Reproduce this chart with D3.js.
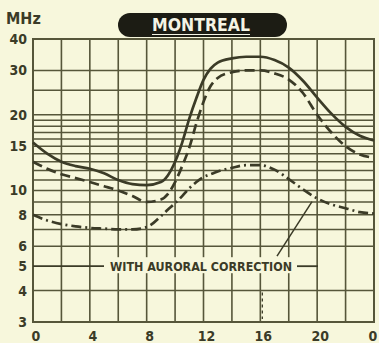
<!DOCTYPE html>
<html>
<head>
<meta charset="utf-8">
<script src="https://cdn.jsdelivr.net/npm/d3@7"></script>
<style>
  html, body { margin: 0; padding: 0; background: #f7f7dc; }
  svg { display: block; }
</style>
</head>
<body>
<script>
// Hours of the day (local time) at which the curves are sampled
const hours = [0, 1, 2, 3, 4, 5, 6, 7, 8, 9, 9.5, 10, 10.5, 11, 11.5, 12, 12.5, 13, 14, 15, 16, 17, 18, 19, 20, 21, 22, 23, 24];

// Frequency curves, MHz
const solidMHz = [15.5, 14.0, 13.0, 12.5, 12.2, 11.7, 11.0, 10.6, 10.5, 10.8, 11.5, 13.0, 15.5, 19.3, 23.3, 27.5, 30.5, 32.2, 33.5, 34, 34, 33, 30.8, 27.3, 23.4, 20.2, 17.9, 16.5, 15.8];
const dashedMHz = [13.0, 12.2, 11.6, 11.2, 10.8, 10.4, 10.0, 9.5, 9.0, 9.2, 9.7, 10.8, 12.5, 14.8, 18.5, 22.5, 26, 28, 29.5, 30, 30, 29.2, 27.6, 24.4, 20, 17, 15, 13.9, 13.5];
const auroralMHz = [8.0, 7.6, 7.35, 7.2, 7.1, 7.05, 7.0, 7.0, 7.15, 7.9, 8.4, 8.9, 9.5, 10.2, 10.8, 11.3, 11.6, 11.9, 12.3, 12.6, 12.6, 12.1, 11.1, 10.1, 9.3, 8.8, 8.5, 8.2, 8.1];

// Axis ticks
const xTickHours = [0, 4, 8, 12, 16, 20, 24];
const xTickLabels = ["0", "4", "8", "12", "16", "20", "0"];
const xGridHours = [0, 2, 4, 6, 8, 10, 12, 14, 16, 18, 20, 22, 24];
const yTickValues = [40, 30, 20, 15, 10, 8, 6, 5, 4, 3];
const yGridValues = [3, 4, 6, 7, 8, 9, 10, 11, 12, 13, 14, 15, 16, 17, 18, 19, 20, 25, 30, 40];

const title = "MONTREAL";
const unitLabel = "MHz";
const noteText = "WITH AURORAL CORRECTION";
const noteLevel = 5;      // MHz level of the annotation's leader line
const notePointHour = 20.2; // where the pointer touches the auroral curve

const W = 379, H = 343;
const margin = { left: 33, right: 5, top: 39, bottom: 20 };
const ink = "#3b3b27";
const gridInk = "#56563a";
const paper = "#f7f7dc";
const fontStack = "'DejaVu Sans Condensed', 'DejaVu Sans', 'Liberation Sans', sans-serif";

const svg = d3.select("body").append("svg")
  .attr("width", W).attr("height", H)
  .style("background", paper);

const x = d3.scaleLinear().domain([0, 24]).range([margin.left, W - margin.right]);
const y = d3.scaleLog().domain([3, 40]).range([H - margin.bottom - 1, margin.top]);

// Grid
const grid = svg.append("g");
grid.selectAll("line.v").data(xGridHours).join("line")
  .attr("x1", d => x(d)).attr("x2", d => x(d))
  .attr("y1", y(40)).attr("y2", y(3))
  .attr("stroke", gridInk).attr("stroke-width", 1.6);
grid.selectAll("line.h").data(yGridValues).join("line")
  .attr("x1", x(0)).attr("x2", x(24))
  .attr("y1", d => y(d)).attr("y2", d => y(d))
  .attr("stroke", gridInk).attr("stroke-width", 1.5);

// Frame
svg.append("rect")
  .attr("x", x(0)).attr("y", y(40))
  .attr("width", x(24) - x(0)).attr("height", y(3) - y(40))
  .attr("fill", "none").attr("stroke", gridInk).attr("stroke-width", 2);

// Annotation: leader line at 5 MHz broken by the label
const noteY = y(noteLevel);
const noteX0 = 104, noteX1 = 297, noteEnd = 318;
svg.append("line").attr("x1", x(0)).attr("x2", noteX0).attr("y1", noteY).attr("y2", noteY)
  .attr("stroke", ink).attr("stroke-width", 1.8);
svg.append("line").attr("x1", noteX1).attr("x2", noteEnd).attr("y1", noteY).attr("y2", noteY)
  .attr("stroke", ink).attr("stroke-width", 1.8);
svg.append("rect").attr("x", noteX0 + 1).attr("y", noteY - 9)
  .attr("width", noteX1 - noteX0 - 2).attr("height", 16).attr("fill", paper);
svg.append("text")
  .attr("x", 110).attr("y", noteY + 5)
  .attr("textLength", 182).attr("lengthAdjust", "spacingAndGlyphs")
  .attr("font-family", fontStack).attr("font-weight", "bold").attr("font-size", 13)
  .attr("fill", ink).text(noteText);

// Small dotted mark below the 16 h line
svg.append("line").attr("x1", x(16) + 2).attr("x2", x(16) + 2)
  .attr("y1", y(4) + 2).attr("y2", y(3) - 3)
  .attr("stroke", ink).attr("stroke-width", 1.3).attr("stroke-dasharray", "3,3");

// Curves
const series = [
  { values: solidMHz, dash: null },
  { values: dashedMHz, dash: "10,5" },
  { values: auroralMHz, dash: "10,4,2,4" }
];
const line = d3.line()
  .x(d => x(d[0])).y(d => y(d[1]))
  .curve(d3.curveMonotoneX);
svg.append("g").selectAll("path").data(series).join("path")
  .attr("d", s => line(hours.map((h, i) => [h, s.values[i]])))
  .attr("fill", "none").attr("stroke", ink).attr("stroke-width", 2.7)
  .attr("stroke-linecap", "butt")
  .attr("stroke-dasharray", s => s.dash);

// Pointer from the label to the auroral curve
const pointIdx = hours.findIndex(h => h >= notePointHour);
const h0 = hours[pointIdx - 1], h1 = hours[pointIdx];
const t = (notePointHour - h0) / (h1 - h0);
const pointVal = Math.exp(Math.log(auroralMHz[pointIdx - 1]) * (1 - t) + Math.log(auroralMHz[pointIdx]) * t);
svg.append("line")
  .attr("x1", 277).attr("y1", noteY - 10)
  .attr("x2", x(notePointHour) - 8).attr("y2", y(pointVal) + 2)
  .attr("stroke", ink).attr("stroke-width", 1.5);

// Y axis labels
svg.append("g").selectAll("text").data(yTickValues).join("text")
  .attr("x", 27).attr("y", d => y(d) + 5)
  .attr("text-anchor", "end")
  .attr("font-family", fontStack).attr("font-weight", "bold").attr("font-size", 14)
  .attr("fill", ink).text(d => d);

// X axis labels (the last one is kept inside the page edge)
svg.append("g").selectAll("text").data(xTickHours).join("text")
  .attr("x", d => Math.min(x(d) + 3, W - 6)).attr("y", H - 2)
  .attr("text-anchor", "middle")
  .attr("font-family", fontStack).attr("font-weight", "bold").attr("font-size", 14)
  .attr("fill", ink).text((d, i) => xTickLabels[i]);

// Unit label
svg.append("text").attr("x", 6).attr("y", 24)
  .attr("font-family", fontStack).attr("font-weight", "bold").attr("font-size", 16)
  .attr("fill", ink).text(unitLabel);

// Title pill
svg.append("rect").attr("x", 118).attr("y", 13).attr("width", 169).attr("height", 24)
  .attr("rx", 12).attr("fill", "#1c1c14");
svg.append("text").attr("x", 152).attr("y", 31)
  .attr("textLength", 98).attr("lengthAdjust", "spacingAndGlyphs")
  .attr("font-family", fontStack).attr("font-weight", "bold").attr("font-size", 17)
  .attr("fill", "#f4f4e4").text(title);
svg.append("line").attr("x1", 152).attr("x2", 250).attr("y1", 34.5).attr("y2", 34.5)
  .attr("stroke", "#f4f4e4").attr("stroke-width", 1.2);
</script>
</body>
</html>
